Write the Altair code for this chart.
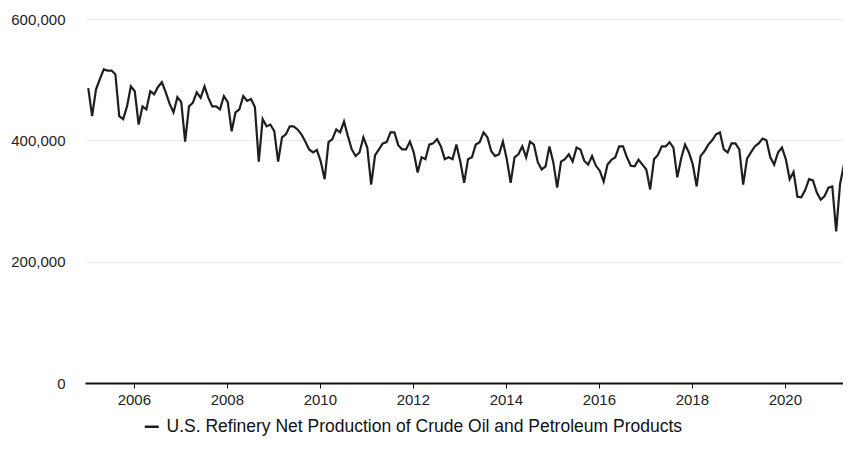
import altair as alt
import pandas as pd

SERIES = "U.S. Refinery Net Production of Crude Oil and Petroleum Products"

# monthly values, thousand barrels, Jan..Dec
v2005 = [486, 440, 484, 501, 517, 515, 515, 509, 440, 435, 456, 489]
v2006 = [481, 426, 456, 451, 481, 476, 488, 496, 479, 460, 446, 471]
v2007 = [463, 398, 456, 462, 479, 470, 489, 470, 456, 456, 451, 473]
v2008 = [463, 415, 446, 451, 473, 465, 468, 455, 365, 435, 423, 426]
v2009 = [415, 365, 405, 410, 423, 423, 418, 410, 398, 385, 380, 384]
v2010 = [365, 336, 397, 402, 418, 413, 431, 407, 385, 374, 380, 405]
v2011 = [388, 327, 375, 385, 395, 397, 413, 413, 392, 385, 385, 398]
v2012 = [380, 347, 372, 369, 393, 395, 402, 390, 369, 372, 369, 393]
v2013 = [365, 330, 369, 372, 393, 397, 413, 405, 382, 374, 377, 398]
v2014 = [369, 330, 372, 377, 390, 372, 398, 393, 364, 352, 357, 390]
v2015 = [364, 322, 365, 369, 377, 365, 388, 385, 366, 360, 374, 358]
v2016 = [350, 332, 360, 368, 372, 390, 390, 372, 358, 357, 368, 360]
v2017 = [352, 319, 369, 376, 390, 390, 397, 388, 339, 370, 393, 380]
v2018 = [360, 324, 374, 382, 393, 400, 410, 413, 385, 380, 395, 395]
v2019 = [385, 327, 370, 380, 390, 395, 403, 400, 372, 360, 380, 388]
v2020 = [369, 336, 348, 307, 306, 318, 336, 334, 314, 302, 308, 322]
v2021 = [324, 250, 328, 360]

all_years = [v2005, v2006, v2007, v2008, v2009, v2010, v2011, v2012,
             v2013, v2014, v2015, v2016, v2017, v2018, v2019, v2020, v2021]

rows = []
for yi, vals in enumerate(all_years):
    for m, v in enumerate(vals):
        rows.append({"t": 2005 + yi + m / 12.0 + 0.02,
                     "value": v * 1000,
                     "series": SERIES})
df = pd.DataFrame(rows)

year_ticks = [2006, 2008, 2010, 2012, 2014, 2016, 2018, 2020]
y_ticks = [0, 200000, 400000, 600000]

FONT = "Liberation Sans"

chart = alt.Chart(df).mark_line(strokeWidth=2.2, color="#1e1e1e").encode(
    x=alt.X("t:Q",
            scale=alt.Scale(domain=[2004.95, 2021.25], nice=False, zero=False),
            axis=alt.Axis(values=year_ticks, format="d", title=None, grid=False,
                          domainColor="#111111", domainWidth=2,
                          tickColor="#111111", tickSize=5, tickWidth=1,
                          labelFontSize=15, labelColor="#222222",
                          labelPadding=4, labelFont=FONT)),
    y=alt.Y("value:Q",
            scale=alt.Scale(domain=[0, 600000], nice=False),
            axis=alt.Axis(values=y_ticks, format=",d", title=None,
                          domain=False, ticks=False, grid=True,
                          gridColor="#ececec", gridWidth=1,
                          labelFontSize=15, labelColor="#222222",
                          labelPadding=20, labelFont=FONT)),
    color=alt.Color("series:N",
                    scale=alt.Scale(range=["#1e1e1e"]),
                    legend=alt.Legend(title=None, orient="none",
                                      legendX=58, legendY=399,
                                      symbolType="stroke", symbolSize=196,
                                      symbolStrokeWidth=2.5,
                                      labelFontSize=17.5, labelColor="#111111",
                                      labelFont=FONT, labelOffset=6,
                                      labelLimit=0)),
).properties(
    width=758,
    height=364,
    autosize=alt.AutoSizeParams(type="none"),
    padding={"left": 77, "top": 11, "right": 0, "bottom": 58},
).configure(font=FONT, background="white").configure_view(stroke=None)

chart.save("out.html", embed_options={"renderer": "svg", "actions": False})
